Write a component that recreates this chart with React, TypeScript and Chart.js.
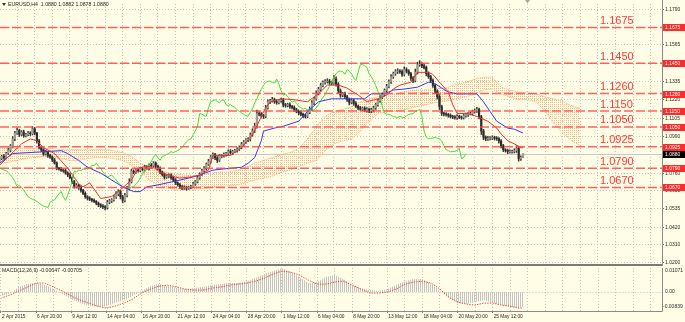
import React, { useEffect, useRef } from "react";
import { Chart, registerables } from "chart.js";

Chart.register(...registerables);

// ---------------- DATA ----------------
// Prices are stored in pips above 1.0000 (e.g. 880 => 1.0880). Bar index 0 = 2 Apr 2015 04:00 (H4 bars).
const firstOpen = 840;
const closes = [
  852, 866, 858, 884, 905, 931, 976, 1012, 1028, 1004,
  1018, 996, 1003, 1012, 1008, 1038, 1011, 962, 921, 907,
  881, 893, 871, 862, 843, 824, 791, 787, 779, 777,
  762, 749, 731, 706, 676, 683, 672, 652, 633, 612,
  603, 596, 590, 583, 571, 562, 553, 549, 544, 577,
  586, 592, 611, 630, 645, 612, 589, 621, 662, 707,
  772, 766, 780, 776, 787, 783, 798, 792, 810, 806,
  823, 804, 791, 767, 751, 735, 742, 748, 733, 718,
  699, 687, 676, 667, 671, 666, 673, 675, 692, 706,
  731, 753, 776, 790, 816, 833, 861, 876, 857, 841,
  866, 869, 878, 884, 896, 888, 896, 902, 911, 921,
  941, 956, 969, 974, 1001, 1025, 1056, 1134, 1131, 1121,
  1117, 1171, 1209, 1214, 1222, 1209, 1203, 1216, 1220, 1189,
  1185, 1191, 1179, 1173, 1159, 1148, 1139, 1130, 1121, 1117,
  1142, 1164, 1201, 1226, 1261, 1287, 1311, 1330, 1336, 1338,
  1329, 1326, 1351, 1319, 1277, 1250, 1258, 1240, 1222, 1205,
  1215, 1198, 1180, 1170, 1162, 1168, 1155, 1160, 1150, 1158,
  1170, 1190, 1215, 1235, 1255, 1280, 1305, 1335, 1365, 1385,
  1398, 1401, 1398, 1381, 1410, 1401, 1385, 1357, 1342, 1394,
  1441, 1443, 1434, 1424, 1385, 1366, 1342, 1311, 1275, 1241,
  1177, 1136, 1131, 1128, 1123, 1115, 1113, 1109, 1117, 1111,
  1109, 1121, 1128, 1133, 1134, 1146, 1152, 1160, 1115, 1025,
  986, 976, 979, 980, 984, 980, 976, 962, 933, 907,
  902, 894, 896, 897, 902, 915, 851, 859, 880,
];
const wickUp = [
  8, 6, 10, 7, 12, 9, 14, 10, 15, 8,
  9, 12, 7, 10, 8, 14, 9, 6, 11, 8,
  7, 10, 6, 9, 8, 11, 7, 5, 9, 6,
  8, 7, 10, 6, 9, 12, 7, 8, 6, 10,
  7, 9, 6, 8, 5, 7, 6, 9, 8, 12,
  10, 8, 9, 14, 11, 7, 9, 12, 15, 18,
  14, 9, 11, 8, 10, 7, 12, 9, 8, 11,
  10, 8, 7, 9, 6, 10, 12, 8, 7, 9,
  8, 6, 9, 7, 10, 8, 6, 9, 11, 8,
  12, 10, 9, 11, 8, 14, 10, 12, 9, 7,
  11, 8, 9, 6, 10, 12, 8, 7, 9, 10,
  12, 9, 8, 10, 11, 14, 18, 22, 12, 10,
  9, 15, 12, 10, 14, 9, 11, 8, 12, 10,
  9, 8, 11, 7, 10, 9, 8, 12, 7, 9,
  14, 12, 15, 11, 16, 12, 14, 10, 12, 15,
  11, 9, 22, 14, 10, 12, 9, 11, 8, 10,
  12, 9, 11, 8, 10, 7, 9, 12, 8, 10,
  11, 9, 8, 12, 10, 9, 13, 11, 14, 10,
  12, 15, 10, 11, 18, 12, 9, 8, 10, 20,
  16, 24, 12, 10, 9, 11, 8, 10, 7, 9,
  12, 10, 8, 9, 7, 10, 8, 9, 11, 7,
  8, 10, 9, 7, 11, 10, 12, 14, 9, 8,
  10, 8, 12, 9, 11, 8, 10, 7, 9, 8,
  7, 9, 10, 8, 11, 18, 14, 9, 2,
];
const wickDown = [
  9, 7, 11, 8, 6, 10, 8, 12, 9, 14,
  8, 11, 9, 7, 12, 8, 10, 13, 9, 11,
  10, 8, 12, 9, 11, 7, 10, 9, 8, 12,
  9, 11, 8, 12, 10, 9, 14, 11, 8, 10,
  12, 9, 11, 8, 10, 13, 9, 12, 15, 10,
  9, 11, 8, 10, 12, 14, 16, 9, 10, 8,
  9, 11, 8, 10, 7, 9, 11, 8, 12, 9,
  8, 12, 10, 11, 9, 13, 8, 10, 12, 9,
  11, 8, 12, 10, 9, 14, 8, 10, 7, 9,
  8, 10, 7, 9, 11, 8, 10, 9, 12, 14,
  8, 10, 9, 11, 7, 9, 12, 8, 10, 9,
  8, 10, 9, 11, 12, 9, 10, 14, 12, 11,
  14, 10, 9, 12, 8, 11, 10, 9, 12, 13,
  11, 9, 12, 10, 11, 9, 12, 10, 13, 11,
  10, 9, 12, 11, 8, 10, 12, 9, 11, 10,
  12, 11, 9, 13, 15, 14, 10, 12, 11, 16,
  10, 12, 9, 11, 8, 10, 9, 12, 10, 11,
  14, 10, 9, 11, 8, 10, 12, 9, 11, 10,
  10, 12, 11, 14, 10, 12, 11, 15, 13, 9,
  11, 10, 12, 9, 14, 11, 13, 12, 15, 16,
  18, 14, 11, 10, 12, 9, 11, 10, 12, 9,
  11, 9, 10, 12, 8, 10, 9, 11, 14, 22,
  16, 12, 10, 11, 9, 12, 10, 13, 14, 12,
  10, 12, 9, 11, 10, 12, 16, 11, 2,
];
const chikouShift = 26;

// Ichimoku lines (bar index, pips)
const tenkanBars = [0, 10, 14, 17, 20, 25, 31, 36, 38, 41, 46, 51, 55, 60, 63, 67, 70, 73, 78, 82, 87, 91, 95, 97, 101, 105, 110, 114, 117, 120, 123, 128, 134, 140, 145, 149, 154, 158, 163, 167, 172, 176, 179, 182, 187, 190, 195, 197, 200, 204, 206, 208, 213, 217, 222, 226, 228, 231, 234, 237, 238];
const tenkanVals = [809, 944, 975, 963, 920, 883, 791, 693, 674, 699, 601, 613, 656, 717, 791, 803, 797, 766, 742, 729, 736, 748, 779, 871, 871, 871, 920, 981, 1055, 1147, 1208, 1227, 1221, 1208, 1258, 1313, 1313, 1294, 1251, 1208, 1227, 1251, 1288, 1313, 1331, 1393, 1393, 1380, 1331, 1270, 1190, 1135, 1135, 1116, 1086, 1043, 1006, 963, 944, 920, 920];
const kijunBars = [0, 6, 28, 31, 36, 40, 46, 51, 56, 61, 64, 67, 72, 86, 91, 97, 105, 110, 113, 116, 119, 120, 125, 129, 136, 140, 145, 151, 160, 166, 169, 175, 179, 184, 190, 195, 197, 201, 204, 208, 217, 220, 223, 226, 231, 234, 238];
const kijunVals = [822, 883, 901, 883, 840, 797, 760, 717, 674, 644, 644, 674, 686, 729, 748, 779, 791, 797, 822, 858, 963, 1024, 1043, 1055, 1086, 1147, 1208, 1227, 1227, 1227, 1258, 1258, 1282, 1288, 1300, 1331, 1331, 1294, 1270, 1258, 1258, 1208, 1147, 1086, 1043, 1036, 1012];
const cloudBars = [0, 4, 8, 12, 16, 20, 24, 28, 32, 36, 40, 44, 48, 52, 56, 60, 64, 68, 72, 76, 80, 84, 88, 92, 96, 100, 104, 108, 112, 116, 120, 124, 128, 132, 136, 140, 144, 148, 152, 156, 160, 164, 168, 172, 176, 180, 184, 188, 192, 196, 200, 204, 208, 212, 216, 220, 224, 228, 232, 236, 240, 244, 248, 252, 256, 260, 264];
const spanTop = [920, 920, 914, 914, 914, 914, 914, 908, 908, 908, 908, 908, 908, 901, 889, 865, 822, 797, 779, 766, 754, 748, 742, 748, 760, 766, 766, 779, 797, 822, 840, 858, 877, 889, 914, 975, 1055, 1116, 1147, 1159, 1178, 1208, 1227, 1239, 1251, 1258, 1270, 1282, 1282, 1288, 1294, 1300, 1319, 1331, 1350, 1362, 1362, 1300, 1282, 1270, 1264, 1258, 1239, 1227, 1208, 1184, 1165];
const spanBottom = [822, 828, 840, 852, 858, 865, 858, 852, 840, 840, 852, 858, 858, 852, 840, 809, 766, 717, 686, 668, 656, 656, 656, 662, 668, 674, 680, 686, 699, 717, 729, 742, 766, 779, 803, 822, 840, 901, 944, 963, 975, 1024, 1086, 1135, 1147, 1147, 1159, 1172, 1184, 1196, 1208, 1215, 1227, 1239, 1258, 1282, 1288, 1258, 1239, 1221, 1221, 1208, 1147, 1073, 1012, 963, 932];

// MACD (12,26,9) in units of 0.00001
const macdBars = [0, 4, 8, 12, 16, 20, 24, 28, 32, 36, 40, 44, 48, 52, 56, 60, 64, 68, 72, 76, 80, 84, 88, 92, 96, 100, 104, 108, 112, 116, 120, 124, 128, 132, 136, 140, 144, 148, 152, 156, 160, 164, 168, 172, 176, 180, 184, 188, 192, 196, 200, 204, 208, 212, 216, 220, 224, 228, 232, 236, 238];
const macdMain = [-178, -89, 222, 355, 400, 311, 133, -89, -311, -488, -622, -666, -622, -488, -355, -178, 44, 266, 355, 266, 178, 133, 178, 222, 311, 355, 400, 400, 488, 622, 799, 933, 1060, 888, 666, 400, 444, 666, 755, 577, 311, 178, 89, 44, 133, 311, 488, 577, 577, 355, 44, -266, -488, -533, -444, -355, -488, -577, -666, -711, -647];
const macdSignal = [-266, -133, 44, 222, 400, 400, 222, 44, -178, -355, -488, -622, -711, -622, -488, -311, -44, 133, 266, 311, 222, 133, 89, 89, 178, 222, 311, 355, 400, 488, 622, 799, 933, 888, 755, 533, 355, 355, 444, 488, 311, 133, -44, -44, 0, 133, 355, 444, 488, 400, 133, -222, -444, -533, -577, -488, -488, -577, -622, -711, -705];
const macdMax = 0.01071;
const macdMin = -0.00839;

const dateLabelBars = [0, 16, 32, 48, 64, 80, 96, 112, 128, 144, 160, 176, 192, 208, 224];
const dateLabels = ["2 Apr 2015", "6 Apr 20:00", "9 Apr 12:00", "14 Apr 04:00", "16 Apr 20:00", "21 Apr 12:00", "24 Apr 04:00", "28 Apr 20:00", "1 May 12:00", "6 May 04:00", "8 May 20:00", "13 May 12:00", "18 May 04:00", "20 May 20:00", "25 May 12:00"];
const priceTicks = [1.02, 1.031, 1.042, 1.0535, 1.065, 1.076, 1.088, 1.099, 1.1105, 1.122, 1.1335, 1.145, 1.1565, 1.1675, 1.179];
const levelLines = [1.1675, 1.145, 1.126, 1.115, 1.105, 1.0925, 1.079, 1.067];
const bidPrice = 1.088;
const headerText = "EURUSD,H4  1.0880 1.0882 1.0878 1.0880";
const macdTitle = "MACD(12,26,9) -0.00647 -0.00705";

// ---------------- STYLE ----------------
const X_MIN = 0.23;
const X_MAX = 301.14;
const Y_MIN = 1.01894;
const Y_MAX = 1.18223;
const FONT = '"Liberation Sans", Arial, sans-serif';
const BG = "#FFFDE6";
const GRID = "#C2C2C2";
const BULL = "#9E9F90";
const BEAR = "#2C2C2C";
const WICK = "#3A3A3A";
const RED = "#F03030";
const BLUE = "#3838F0";
const GREEN = "#3CE03C";
const CLOUD = "#F7BC84";
const CLOUD_LINE = "#F4A868";
const LEVEL_LINE = "rgba(255,70,70,0.85)";
const LEVEL_TEXT = "#FF3838";
const TAG_RED = "#FF2A2A";
const AXIS_TEXT = "#2A2A2A";
const FRAME = "#8A8A8A";

const toPrice = (v: number) => 1 + v / 10000;

function makePattern(w: number, h: number, draw: (g: CanvasRenderingContext2D) => void) {
  const c = document.createElement("canvas");
  c.width = w;
  c.height = h;
  const g = c.getContext("2d") as CanvasRenderingContext2D;
  draw(g);
  return g.createPattern(c, "repeat") as CanvasPattern;
}

export default function App() {
  const mainRef = useRef<HTMLCanvasElement | null>(null);
  const macdRef = useRef<HTMLCanvasElement | null>(null);

  useEffect(() => {
    document.body.style.margin = "0";
    document.body.style.background = BG;

    const cloudPattern = makePattern(2, 2, (g) => {
      g.fillStyle = CLOUD;
      g.fillRect(0, 0, 1, 1);
    });
    const histPattern = makePattern(2, 1, (g) => {
      g.fillStyle = "#C4C4C4";
      g.fillRect(0, 0, 1, 1);
    });

    const gridBars: number[] = [];
    for (let b = 0; b <= 296; b += 8) gridBars.push(b);
    const labelAt = new Map<number, string>();
    dateLabelBars.forEach((b, i) => labelAt.set(b, dateLabels[i]));

    const opens = closes.map((c, i) => (i === 0 ? firstOpen : closes[i - 1]));
    const wickData = closes.map((c, i) => ({
      x: i,
      y: [toPrice(Math.min(opens[i], c) - wickDown[i]), toPrice(Math.max(opens[i], c) + wickUp[i])],
    }));
    const bodyData = closes.map((c, i) => ({ x: i, y: [toPrice(opens[i]), toPrice(c)] }));
    const bodyColors = closes.map((c, i) => (c >= opens[i] ? BULL : BEAR));
    const chikouData = closes.map((c, i) => ({ x: i - chikouShift, y: toPrice(c) }));
    const line = (bars: number[], vals: number[]) => bars.map((b, i) => ({ x: b, y: toPrice(vals[i]) }));

    const mainOverlay = {
      id: "mainOverlay",
      beforeDatasetsDraw(chart: any) {
        const { ctx, chartArea: a, scales } = chart;
        const y = scales.y;
        ctx.save();
        const by = Math.round(y.getPixelForValue(bidPrice)) + 0.5;
        ctx.strokeStyle = "#C8C8C8";
        ctx.lineWidth = 1;
        ctx.beginPath();
        ctx.moveTo(a.left, by);
        ctx.lineTo(a.right, by);
        ctx.stroke();
        ctx.restore();
      },
      afterDatasetsDraw(chart: any) {
        const { ctx, chartArea: a, scales } = chart;
        const y = scales.y;
        ctx.save();
        ctx.beginPath();
        ctx.rect(a.left, a.top, a.right - a.left, a.bottom - a.top);
        ctx.clip();
        ctx.strokeStyle = LEVEL_LINE;
        ctx.lineWidth = 1.5;
        ctx.setLineDash([9, 3]);
        levelLines.forEach((l) => {
          const yy = y.getPixelForValue(l);
          ctx.beginPath();
          ctx.moveTo(a.left, yy);
          ctx.lineTo(a.right, yy);
          ctx.stroke();
        });
        ctx.setLineDash([]);
        ctx.font = `11px ${FONT}`;
        ctx.fillStyle = LEVEL_TEXT;
        ctx.textAlign = "left";
        ctx.textBaseline = "alphabetic";
        levelLines.forEach((l) => {
          ctx.fillText(l.toFixed(4), a.right - 62, y.getPixelForValue(l) - 3.5);
        });
        ctx.restore();
      },
      afterDraw(chart: any) {
        const { ctx, chartArea: a, scales } = chart;
        const y = scales.y;
        ctx.save();
        ctx.fillStyle = "#7A7A7A";
        ctx.fillRect(a.left, a.bottom, a.right - a.left, 2);
        ctx.strokeStyle = FRAME;
        ctx.lineWidth = 1;
        ctx.beginPath();
        ctx.moveTo(a.right + 0.5, 0);
        ctx.lineTo(a.right + 0.5, a.bottom + 2);
        ctx.stroke();
        ctx.font = `5px ${FONT}`;
        ctx.textAlign = "left";
        ctx.textBaseline = "middle";
        levelLines.forEach((l) => {
          const yy = Math.round(y.getPixelForValue(l));
          ctx.fillStyle = TAG_RED;
          ctx.fillRect(a.right + 1, yy - 3, 22, 7);
          ctx.fillStyle = "#FFFFFF";
          ctx.fillText(l.toFixed(4), a.right + 3, yy + 0.5);
        });
        const by = Math.round(y.getPixelForValue(bidPrice));
        ctx.fillStyle = "#000000";
        ctx.fillRect(a.right + 1, by - 3, 22, 7);
        ctx.fillStyle = "#FFFFFF";
        ctx.fillText(bidPrice.toFixed(4), a.right + 3, by + 0.5);
        ctx.fillStyle = "#333333";
        ctx.beginPath();
        ctx.moveTo(2, 3);
        ctx.lineTo(6, 3);
        ctx.lineTo(4, 6);
        ctx.closePath();
        ctx.fill();
        ctx.font = `5.2px ${FONT}`;
        ctx.fillStyle = AXIS_TEXT;
        ctx.fillText(headerText, 8, 4.8);
        const sx = chart.scales.x.getPixelForValue(240);
        ctx.fillStyle = "#A8A8A8";
        ctx.beginPath();
        ctx.moveTo(sx - 2.5, 0);
        ctx.lineTo(sx + 2.5, 0);
        ctx.lineTo(sx, 3.5);
        ctx.closePath();
        ctx.fill();
        ctx.restore();
      },
    };

    const main = new Chart(mainRef.current as HTMLCanvasElement, {
      type: "bar",
      data: {
        datasets: [
          {
            type: "line",
            label: "Senkou A",
            data: line(cloudBars, spanTop),
            borderColor: CLOUD_LINE,
            borderWidth: 1,
            borderDash: [1, 1],
            pointRadius: 0,
            fill: "+1",
            backgroundColor: cloudPattern,
            order: 10,
          },
          {
            type: "line",
            label: "Senkou B",
            data: line(cloudBars, spanBottom),
            borderColor: CLOUD_LINE,
            borderWidth: 1,
            borderDash: [1, 1],
            pointRadius: 0,
            fill: false,
            order: 10,
          },
          {
            type: "bar",
            label: "Wick",
            data: wickData,
            backgroundColor: WICK,
            barThickness: 0.9,
            grouped: false,
            order: 6,
          },
          {
            type: "bar",
            label: "Body",
            data: bodyData,
            backgroundColor: bodyColors,
            barThickness: 1.5,
            grouped: false,
            order: 5,
          },
          {
            type: "line",
            label: "Chikou",
            data: chikouData,
            borderColor: GREEN,
            borderWidth: 1,
            pointRadius: 0,
            fill: false,
            order: 3,
          },
          {
            type: "line",
            label: "Kijun",
            data: line(kijunBars, kijunVals),
            borderColor: BLUE,
            borderWidth: 1,
            pointRadius: 0,
            fill: false,
            order: 2,
          },
          {
            type: "line",
            label: "Tenkan",
            data: line(tenkanBars, tenkanVals),
            borderColor: RED,
            borderWidth: 1,
            pointRadius: 0,
            fill: false,
            order: 1,
          },
        ],
      } as any,
      options: {
        responsive: false,
        animation: false,
        devicePixelRatio: 1,
        events: [],
        layout: { padding: { left: 0, right: 0, top: 0, bottom: 2 } },
        plugins: { legend: { display: false }, tooltip: { enabled: false } },
        scales: {
          x: {
            type: "linear",
            min: X_MIN,
            max: X_MAX,
            offset: false,
            afterBuildTicks: (s: any) => {
              s.ticks = gridBars.map((v) => ({ value: v }));
            },
            afterFit: (s: any) => {
              s.height = 0;
            },
            ticks: { display: false },
            grid: { color: GRID, lineWidth: 1, drawTicks: false, offset: false },
            border: { display: false, dash: [1, 2] },
          },
          y: {
            position: "right",
            min: Y_MIN,
            max: Y_MAX,
            afterBuildTicks: (s: any) => {
              s.ticks = priceTicks.map((v) => ({ value: v }));
            },
            afterFit: (s: any) => {
              s.width = 23;
            },
            ticks: {
              callback: (v: any) => Number(v).toFixed(4),
              font: { size: 5, family: FONT },
              color: AXIS_TEXT,
              padding: 1,
              autoSkip: false,
            },
            grid: { color: GRID, drawTicks: true, tickLength: 2, tickColor: "#777777", tickBorderDash: [] },
            border: { display: false, dash: [1, 2] },
          },
        },
      } as any,
      plugins: [mainOverlay],
    });

    const macdOverlay = {
      id: "macdOverlay",
      afterDraw(chart: any) {
        const { ctx, chartArea: a } = chart;
        ctx.save();
        ctx.strokeStyle = FRAME;
        ctx.lineWidth = 1;
        ctx.beginPath();
        ctx.moveTo(a.right + 0.5, 0);
        ctx.lineTo(a.right + 0.5, a.bottom + 0.5);
        ctx.lineTo(a.left, a.bottom + 0.5);
        ctx.stroke();
        ctx.font = `5.2px ${FONT}`;
        ctx.fillStyle = AXIS_TEXT;
        ctx.textAlign = "left";
        ctx.textBaseline = "middle";
        ctx.fillText(macdTitle, 2, 2.6);
        ctx.font = `5px ${FONT}`;
        ctx.fillText(macdMax.toFixed(5), a.right + 3, 2.2);
        ctx.fillText("0.00", a.right + 3, chart.scales.y.getPixelForValue(0));
        ctx.fillText(macdMin.toFixed(5), a.right + 1, a.bottom - 4);
        ctx.restore();
      },
    };

    const macd = new Chart(macdRef.current as HTMLCanvasElement, {
      type: "line",
      data: {
        datasets: [
          {
            label: "MACD",
            data: macdBars.map((b, i) => ({ x: b, y: macdMain[i] * 1e-5 })),
            borderColor: "rgba(0,0,0,0)",
            borderWidth: 1,
            pointRadius: 0,
            fill: "origin",
            backgroundColor: histPattern,
            order: 2,
          },
          {
            label: "Signal",
            data: macdBars.map((b, i) => ({ x: b, y: macdSignal[i] * 1e-5 })),
            borderColor: "#F04040",
            borderWidth: 1,
            borderDash: [1.3, 1.3],
            pointRadius: 0,
            fill: false,
            order: 1,
          },
        ],
      } as any,
      options: {
        responsive: false,
        animation: false,
        devicePixelRatio: 1,
        events: [],
        layout: { padding: 0 },
        plugins: { legend: { display: false }, tooltip: { enabled: false } },
        scales: {
          x: {
            type: "linear",
            min: X_MIN,
            max: X_MAX,
            offset: false,
            afterBuildTicks: (s: any) => {
              s.ticks = gridBars.map((v) => ({ value: v }));
            },
            afterFit: (s: any) => {
              s.height = 11;
            },
            ticks: {
              autoSkip: false,
              maxRotation: 0,
              align: "start",
              labelOffset: 1,
              padding: 1,
              font: { size: 4.8, family: FONT },
              color: AXIS_TEXT,
              callback: (v: any) => labelAt.get(Number(v)) ?? "",
            },
            grid: {
              color: GRID,
              drawTicks: true,
              tickLength: 2,
              tickColor: (c: any) => (c.tick && labelAt.has(c.tick.value) ? "#808080" : "rgba(0,0,0,0)"),
              tickBorderDash: [],
              offset: false,
            },
            border: { display: false, dash: [1, 2] },
          },
          y: {
            position: "right",
            min: macdMin,
            max: macdMax,
            afterBuildTicks: (s: any) => {
              s.ticks = [{ value: 0 }];
            },
            afterFit: (s: any) => {
              s.width = 23;
            },
            ticks: { display: false },
            grid: { color: GRID, drawTicks: false },
            border: { display: false, dash: [1, 2] },
          },
        },
      } as any,
      plugins: [macdOverlay],
    });

    return () => {
      main.destroy();
      macd.destroy();
    };
  }, []);

  return (
    <div style={{ position: "relative", width: 685, height: 322, background: BG, overflow: "hidden" }}>
      <canvas ref={mainRef} width={685} height={268} style={{ position: "absolute", left: 0, top: 0 }} />
      <canvas ref={macdRef} width={685} height={54} style={{ position: "absolute", left: 0, top: 268 }} />
    </div>
  );
}
